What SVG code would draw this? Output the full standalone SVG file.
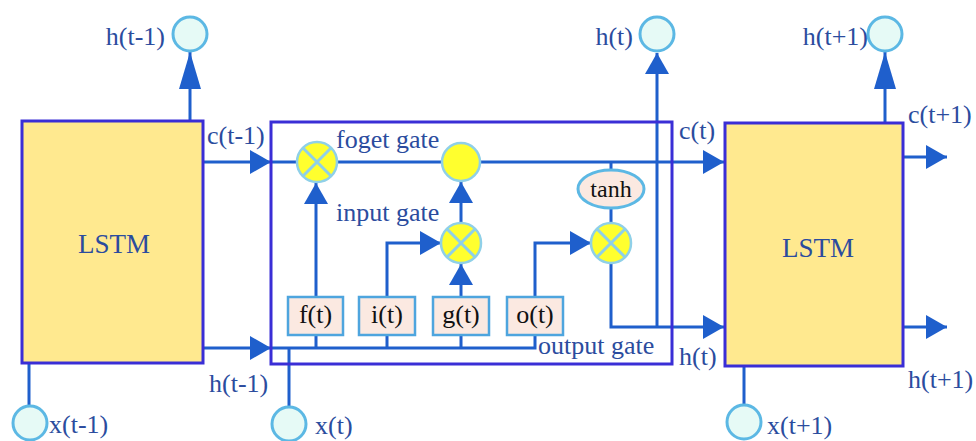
<svg xmlns="http://www.w3.org/2000/svg" width="976" height="441" viewBox="0 0 976 441">
<style>
.lbl{font-family:"Liberation Serif","Times New Roman",serif;font-size:26px;fill:#2B4C9E}
.gtxt{font-family:"Liberation Serif","Times New Roman",serif;font-size:26px;fill:#111}
.lstm{fill:#FFE98F;stroke:#3A2ED6;stroke-width:3}
.frame{fill:none;stroke:#3A2ED6;stroke-width:3}
.io{fill:#E6FAF6;stroke:#5CB8E4;stroke-width:3}
.mul{fill:#FFFF2E;stroke:#8FD0E8;stroke-width:2.5}
.x{stroke:#8FD0E8;stroke-width:3}
.gate{fill:#FBE9E1;stroke:#4EA5DE;stroke-width:2.5}
.tanh{fill:#FBE9E1;stroke:#5CB8E4;stroke-width:3}
.c{fill:none;stroke:#1F5FCC;stroke-width:3}
.a{marker-end:url(#arr)}
.ab{marker-end:url(#arrB)}
</style>
<defs>
<marker id="arr" markerUnits="userSpaceOnUse" markerWidth="21" markerHeight="24" refX="21" refY="12" orient="auto" viewBox="0 0 21 24">
<path d="M0,0 L21,12 L0,24 z" fill="#1F5FCC"/>
</marker>
<marker id="arrB" markerUnits="userSpaceOnUse" markerWidth="37" markerHeight="22" refX="37" refY="11" orient="auto" viewBox="0 0 37 22">
<path d="M0,0 L37,11 L0,22 z" fill="#1F5FCC"/>
</marker>
</defs>

<g id="connectors">
<path class="c ab" d="M190,121 V52"/>
<path class="c ab" d="M885,123 V52"/>
<path class="c a" d="M657,327 V53"/>
<path class="c a" d="M203,162 H271"/>
<path class="c" d="M271,162 H297"/>
<path class="c" d="M337,162 H442"/>
<path class="c a" d="M480,162 H724"/>
<path class="c" d="M611,162 V170"/>
<path class="c" d="M611,208 V223"/>
<path class="c a" d="M611,263 V327 H724"/>
<path class="c a" d="M203,348 H271"/>
<path class="c" d="M271,348 H535 V335"/>
<path class="c" d="M316,348 V335 M387,348 V335 M461,348 V335"/>
<path class="c" d="M289,406 V348"/>
<path class="c a" d="M316,297 V183"/>
<path class="c a" d="M387,297 V243 H441"/>
<path class="c a" d="M461,297 V264"/>
<path class="c a" d="M461,223 V182"/>
<path class="c a" d="M535,297 V243 H591"/>
<path class="c a" d="M903,157 H947"/>
<path class="c a" d="M903,327 H947"/>
<path class="c" d="M29,363 V407"/>
<path class="c" d="M744,366 V405"/>
</g>

<g id="lstm-prev">
<rect class="lstm" x="22" y="121" width="181" height="242"/>
<text class="lbl" x="114" y="253" text-anchor="middle" style="font-size:27px">LSTM</text>
</g>
<g id="lstm-next">
<rect class="lstm" x="725" y="123" width="178" height="243"/>
<text class="lbl" x="818" y="257" text-anchor="middle" style="font-size:27px">LSTM</text>
</g>
<g id="cell">
<rect class="frame" x="271" y="122" width="401" height="242"/>
</g>

<g id="forget-mul">
<circle class="mul" cx="317" cy="162" r="20"/>
<path class="x" d="M303,148 L331,176 M331,148 L303,176"/>
</g>
<g id="cell-add">
<circle class="mul" cx="461" cy="162" r="19"/>
</g>
<g id="input-mul">
<circle class="mul" cx="461" cy="243" r="20"/>
<path class="x" d="M447,229 L475,257 M475,229 L447,257"/>
</g>
<g id="output-mul">
<circle class="mul" cx="611" cy="243" r="20"/>
<path class="x" d="M597,229 L625,257 M625,229 L597,257"/>
</g>
<g id="tanh">
<ellipse class="tanh" cx="611" cy="189" rx="33" ry="19"/>
<text class="gtxt" x="611" y="197" text-anchor="middle" style="font-size:24px">tanh</text>
</g>

<g id="gate-f">
<rect class="gate" x="288" y="297" width="55" height="38"/>
<text class="gtxt" x="315.5" y="323" text-anchor="middle">f(t)</text>
</g>
<g id="gate-i">
<rect class="gate" x="359" y="297" width="56" height="38"/>
<text class="gtxt" x="387" y="323" text-anchor="middle">i(t)</text>
</g>
<g id="gate-g">
<rect class="gate" x="433" y="297" width="56" height="38"/>
<text class="gtxt" x="461" y="323" text-anchor="middle">g(t)</text>
</g>
<g id="gate-o">
<rect class="gate" x="507" y="297" width="56" height="38"/>
<text class="gtxt" x="535" y="323" text-anchor="middle">o(t)</text>
</g>

<g id="io-h-prev"><circle class="io" cx="190" cy="34" r="17"/><text class="lbl" x="165" y="45" text-anchor="end">h(t-1)</text></g>
<g id="io-h-cur"><circle class="io" cx="657" cy="34" r="17"/><text class="lbl" x="633" y="45" text-anchor="end">h(t)</text></g>
<g id="io-h-next"><circle class="io" cx="885" cy="34" r="17"/><text class="lbl" x="868" y="45" text-anchor="end">h(t+1)</text></g>
<g id="io-x-prev"><circle class="io" cx="30" cy="423" r="17"/><text class="lbl" x="49" y="433">x(t-1)</text></g>
<g id="io-x-cur"><circle class="io" cx="289" cy="424" r="17"/><text class="lbl" x="315" y="434">x(t)</text></g>
<g id="io-x-next"><circle class="io" cx="744" cy="422" r="17"/><text class="lbl" x="767" y="434">x(t+1)</text></g>

<g id="labels">
<text class="lbl" x="207" y="144">c(t-1)</text>
<text class="lbl" x="209" y="392">h(t-1)</text>
<text class="lbl" x="336" y="148">foget gate</text>
<text class="lbl" x="336" y="221">input gate</text>
<text class="lbl" x="538" y="354">output gate</text>
<text class="lbl" x="679" y="139">c(t)</text>
<text class="lbl" x="679" y="365">h(t)</text>
<text class="lbl" x="908" y="123">c(t+1)</text>
<text class="lbl" x="908" y="388">h(t+1)</text>
</g>
</svg>
